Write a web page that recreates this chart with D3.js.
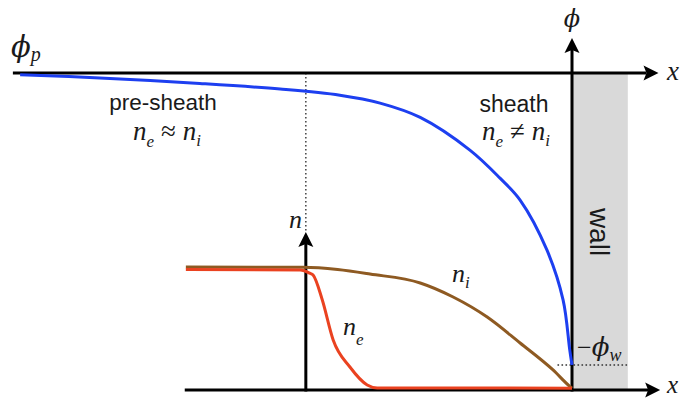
<!DOCTYPE html>
<html>
<head>
<meta charset="utf-8">
<script src="https://cdn.jsdelivr.net/npm/d3@7"></script>
<style>
  html, body { margin: 0; padding: 0; background: #fff; }
  svg { display: block; }
  .sans { font-family: "Liberation Sans", Arial, Helvetica, sans-serif; fill: #1a1a1a; }
  .math { font-family: "Liberation Serif", "Times New Roman", "DejaVu Serif", serif; font-style: italic; fill: #1a1a1a; }
  .sym  { font-style: normal; }
  .greek { font-family: "DejaVu Serif", "Liberation Serif", serif; font-style: italic; }
</style>
</head>
<body>
<svg id="chart" width="682" height="399"></svg>
<script>
// Position along x, in units where the wall surface sits at 0
const phiX   = [-9.89, -8.46, -6.67, -5.23, -4.16, -3.44, -2.72, -1.83, -1.29, -0.93, -0.45, -0.16, -0.04, 0];
// Potential, normalised to the wall potential (phi_w = 1)
const phiVal = [-0.006, -0.017, -0.036, -0.055, -0.076, -0.103, -0.152, -0.264, -0.36, -0.435, -0.606, -0.777, -0.949, -1.0];

// Ion density
const niX   = [-6.92, -4.82, -4.2, -3.62, -2.72, -2.13, -1.52, -0.93, -0.34, -0.04, 0];
const niVal = [1.0, 0.998, 0.98, 0.943, 0.87, 0.756, 0.593, 0.382, 0.163, 0.03, 0.015];

// Electron density
const neX   = [-6.92, -4.87, -4.70, -4.64, -4.48, -4.28, -3.98, -3.67, -3.49, 0];
const neVal = [0.98, 0.976, 0.95, 0.935, 0.74, 0.407, 0.187, 0.041, 0.016, 0.015];

// Axis extents (same units as above)
const xStart = -10.02, xEnd = 1.55;       // potential axis
const nAxisStart = -6.94, nAxisEnd = 1.58; // density axis
const sheathEdge = -4.77;                  // sheath / pre-sheath boundary, density origin
const phiTop = 0.12, nTop = 1.285;

const svg = d3.select("#chart");

const x = d3.scaleLinear().domain([-10, 0]).range([14, 572]);
const yPhi = d3.scaleLinear().domain([0, -1]).range([73, 365]);
const yN = d3.scaleLinear().domain([0, 1]).range([390, 267]);

const colors = { phi: "#1d3ff0", ni: "#8e5a22", ne: "#ea4220", wall: "#d9d9d9", axis: "#000" };

// Wall
svg.append("rect")
  .attr("x", x(0)).attr("y", yPhi(0))
  .attr("width", x(1) - x(0)).attr("height", yN(0) - yPhi(0))
  .attr("fill", colors.wall);

// Dotted guide lines
svg.append("line")
  .attr("x1", x(sheathEdge)).attr("x2", x(sheathEdge))
  .attr("y1", yPhi(0)).attr("y2", yN(nTop))
  .attr("stroke", "#333").attr("stroke-width", 1.4).attr("stroke-dasharray", "1.6,2.4");
svg.append("line")
  .attr("x1", x(-0.26)).attr("x2", x(1))
  .attr("y1", yPhi(-1)).attr("y2", yPhi(-1))
  .attr("stroke", "#333").attr("stroke-width", 1.4).attr("stroke-dasharray", "1.6,2.4");

// Arrow helper: shaft plus filled notched head
function arrow(x1, y1, x2, y2) {
  const ang = Math.atan2(y2 - y1, x2 - x1);
  const L = 15, W = 7.5, notch = 3;
  const g = svg.append("g");
  const bx = x2 - (L - notch) * Math.cos(ang), by = y2 - (L - notch) * Math.sin(ang);
  g.append("line").attr("x1", x1).attr("y1", y1).attr("x2", bx).attr("y2", by)
    .attr("stroke", colors.axis).attr("stroke-width", 3);
  const c = Math.cos(ang), s = Math.sin(ang);
  const pts = [[0, 0], [-L, -W], [-L + notch, 0], [-L, W]]
    .map(([u, v]) => [x2 + u * c - v * s, y2 + u * s + v * c]);
  g.append("path").attr("d", d3.line()(pts) + "Z").attr("fill", colors.axis);
}

arrow(x(xStart), yPhi(0), x(xEnd), yPhi(0));           // top x axis
arrow(x(0), yN(0) + 1.5, x(0), yPhi(phiTop));           // phi axis
arrow(x(nAxisStart), yN(0), x(nAxisEnd), yN(0));       // bottom x axis
arrow(x(sheathEdge), yN(0) + 1.5, x(sheathEdge), yN(nTop)); // n axis

// Curves
const phiLine = d3.line().x((d, i) => x(phiX[i])).y(d => yPhi(d)).curve(d3.curveCatmullRom.alpha(0.5));
const niLine  = d3.line().x((d, i) => x(niX[i])).y(d => yN(d)).curve(d3.curveMonotoneX);
const neLine  = d3.line().x((d, i) => x(neX[i])).y(d => yN(d)).curve(d3.curveMonotoneX);

svg.append("path").attr("d", niLine(niVal)).attr("fill", "none")
  .attr("stroke", colors.ni).attr("stroke-width", 3);
svg.append("path").attr("d", neLine(neVal)).attr("fill", "none")
  .attr("stroke", colors.ne).attr("stroke-width", 3);
svg.append("path").attr("d", phiLine(phiVal)).attr("fill", "none")
  .attr("stroke", colors.phi).attr("stroke-width", 3);

// Labels
function mathLabel(xp, yp, parts, size, anchor) {
  const t = svg.append("text").attr("class", "math")
    .attr("x", xp).attr("y", yp).attr("font-size", size)
    .attr("text-anchor", anchor || "start");
  parts.forEach(p => {
    const ts = t.append("tspan").text(p.t);
    if (p.sub) ts.attr("font-size", p.size || 16).attr("dy", p.dy);
    else if (p.dy) ts.attr("dy", p.dy);
    if (p.sym) ts.attr("class", "sym");
    if (p.greek) ts.attr("class", "greek");
    if (p.dx) ts.attr("dx", p.dx);
  });
  return t;
}

mathLabel(11, 57, [{ t: "ϕ", greek: true }, { t: "p", sub: true, dy: 4, size: 20 }], 29);
mathLabel(572, 27, [{ t: "ϕ", greek: true }], 24, "middle");
mathLabel(667, 80, [{ t: "x" }], 27);
mathLabel(667, 393, [{ t: "x" }], 25);
mathLabel(289, 228, [{ t: "n" }], 26);
mathLabel(343, 335, [{ t: "n" }, { t: "e", sub: true, dy: 10, size: 17 }], 26);
mathLabel(452, 282, [{ t: "n" }, { t: "i", sub: true, dy: 6, size: 17 }], 26);
mathLabel(577, 356, [{ t: "−", sym: true }, { t: "ϕ", greek: true }, { t: "w", sub: true, dy: 5, size: 18 }], 26);

svg.append("text").attr("class", "sans").attr("x", 163).attr("y", 110)
  .attr("text-anchor", "middle").attr("font-size", 22.5).text("pre-sheath");
svg.append("text").attr("class", "sans").attr("x", 514).attr("y", 112)
  .attr("text-anchor", "middle").attr("font-size", 23).text("sheath");

mathLabel(167, 140, [
  { t: "n" }, { t: "e", sub: true, dy: 7, size: 17 },
  { t: "≈", sym: true, dy: -7, dx: 7 },
  { t: "n", dx: 7 }, { t: "i", sub: true, dy: 6, size: 17 }
], 27, "middle");
mathLabel(516, 140, [
  { t: "n" }, { t: "e", sub: true, dy: 7, size: 17 },
  { t: "≠", sym: true, dy: -7, dx: 7 },
  { t: "n", dx: 7 }, { t: "i", sub: true, dy: 6, size: 17 }
], 27, "middle");

svg.append("text").attr("class", "sans")
  .attr("transform", `translate(${x(0.32)},232) rotate(90)`)
  .attr("text-anchor", "middle").attr("font-size", 28).attr("fill", "#1a1a1a").text("wall");
</script>
</body>
</html>
